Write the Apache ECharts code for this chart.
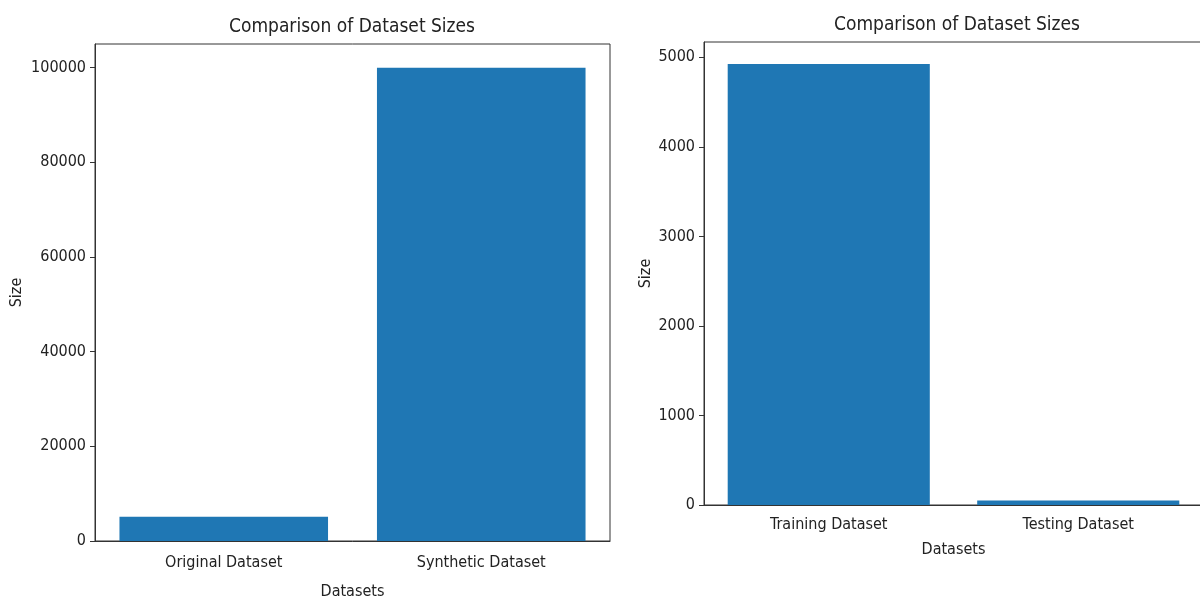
<!DOCTYPE html>
<html>
<head>
<meta charset="utf-8">
<script src="https://cdn.jsdelivr.net/npm/echarts@6/dist/echarts.min.js"></script>
<style>
  html, body { margin: 0; padding: 0; background: #fff; }
  #myChart { width: 1200px; height: 599px; }
</style>
</head>
<body>
<div id="myChart"></div>
<script>
// Datas
const leftCategories = ['Original Dataset', 'Synthetic Dataset']
const leftValues = [5100, 100000]
const leftTicks = [0, 20000, 40000, 60000, 80000, 100000]

const rightCategories = ['Training Dataset', 'Testing Dataset']
const rightValues = [4925, 50]
const rightTicks = [0, 1000, 2000, 3000, 4000, 5000]

const titleText = 'Comparison of Dataset Sizes'
const FONT = 'DejaVu Sans Condensed, Liberation Sans Narrow, DejaVu Sans, sans-serif'
const INK = '#222'

function xAxisOpt(idx, cats, gap, margin) {
  return {
    type: 'category',
    gridIndex: idx,
    data: cats,
    name: 'Datasets',
    nameLocation: 'middle',
    nameGap: gap,
    nameTextStyle: { fontFamily: FONT, fontSize: 16, color: INK },
    axisLine: { lineStyle: { color: '#333', width: 1 } },
    axisTick: { alignWithLabel: true, length: 5, lineStyle: { color: '#333' } },
    axisLabel: { fontFamily: FONT, fontSize: 16, color: INK, margin: margin },
    splitLine: { show: false },
  }
}

function yAxisOpt(idx, max, ticks, gap) {
  return {
    type: 'value',
    gridIndex: idx,
    min: 0,
    max: max,
    name: 'Size',
    nameLocation: 'middle',
    nameRotate: 90,
    nameGap: gap,
    nameTextStyle: { fontFamily: FONT, fontSize: 16, color: INK },
    axisLine: { show: true, lineStyle: { color: '#333', width: 1 } },
    axisTick: { show: true, length: 5, customValues: ticks, lineStyle: { color: '#333' } },
    axisLabel: {
      fontFamily: FONT, fontSize: 16, color: INK, margin: 9, customValues: ticks,
      formatter: v => String(v),
    },
    splitLine: { show: false },
  }
}

const chart = echarts.init(document.getElementById('myChart'))
chart.setOption({
  animation: false,
  backgroundColor: '#fff',
  title: [
    { text: titleText, left: 347, top: 13, textAlign: 'center',
      textStyle: { fontFamily: FONT, fontSize: 19, fontWeight: 'normal', color: INK } },
    { text: titleText, left: 952, top: 11, textAlign: 'center',
      textStyle: { fontFamily: FONT, fontSize: 19, fontWeight: 'normal', color: INK } },
  ],
  grid: [
    { left: 95, right: 590, top: 44, bottom: 58, outerBoundsMode: 'none',
      show: true, borderColor: '#333', borderWidth: 1 },
    { left: 704, right: -3, top: 42, bottom: 94, outerBoundsMode: 'none',
      show: true, borderColor: '#333', borderWidth: 1 },
  ],
  xAxis: [
    xAxisOpt(0, leftCategories, 43, 14),
    xAxisOpt(1, rightCategories, 37, 12),
  ],
  yAxis: [
    yAxisOpt(0, 105000, leftTicks, 70),
    yAxisOpt(1, 5171, rightTicks, 50),
  ],
  series: [{
    type: 'bar',
    xAxisIndex: 0,
    yAxisIndex: 0,
    barWidth: '81%',
    itemStyle: { color: '#1f77b4' },
    data: leftValues,
  },
  {
    type: 'bar',
    xAxisIndex: 1,
    yAxisIndex: 1,
    barWidth: '81%',
    itemStyle: { color: '#1f77b4' },
    data: rightValues,
  }],
})
</script>
</body>
</html>
